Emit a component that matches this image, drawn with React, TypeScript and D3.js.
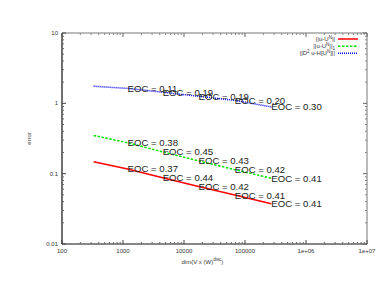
import React from 'react';
import * as d3 from 'd3';

// degrees of freedom (x) and errors for each norm
const dims = [330, 1190, 4470, 17300, 68000, 270000];
const errL2 = [0.148, 0.1167, 0.0873, 0.0657, 0.0496, 0.0374];
const errH1 = [0.35, 0.275, 0.204, 0.152, 0.114, 0.086];
const errH2 = [1.75, 1.63, 1.44, 1.26, 1.1, 0.89];
const eocL2 = ['0.37', '0.44', '0.42', '0.41', '0.41'];
const eocH1 = ['0.38', '0.45', '0.43', '0.42', '0.41'];
const eocH2 = ['0.11', '0.19', '0.19', '0.20', '0.30'];
const xTicks = [100, 1000, 10000, 100000, 1e6, 1e7];
const xTickLabels = ['100', '1000', '10000', '100000', '1e+06', '1e+07'];
const yTicks = [0.01, 0.1, 1, 10];
const yTickLabels = ['0.01', '0.1', '1', '10'];

const series = [
  { name: 'l2', values: errL2, eoc: eocL2, color: '#ff0000', dash: null, width: 1.5 },
  { name: 'h1', values: errH1, eoc: eocH1, color: '#00e000', dash: '2.5,1.5', width: 1.5 },
  { name: 'h2', values: errH2, eoc: eocH2, color: '#0000ff', dash: '1,1', width: 1.5 },
];

export default function App() {
  const W = 390, H = 302;
  const margin = { top: 33, right: 23, bottom: 58, left: 62 };
  const iw = W - margin.left - margin.right;
  const ih = H - margin.top - margin.bottom;

  const x = d3.scaleLog().domain([100, 1e7]).range([0, iw]);
  const y = d3.scaleLog().domain([0.01, 10]).range([ih, 0]);

  const minorX: number[] = [];
  for (let d = 100; d < 1e7; d *= 10) for (let k = 2; k <= 9; k++) minorX.push(d * k);
  const minorY: number[] = [];
  for (let d = 0.01; d < 10 - 1e-9; d *= 10) for (let k = 2; k <= 9; k++) minorY.push(d * k);

  const font = 'Liberation Sans, Arial, sans-serif';

  return (
    <svg width={W} height={H} style={{ position: 'absolute', left: 0, top: 0, background: '#fff' }}>
      <g transform={`translate(${margin.left},${margin.top})`} fontFamily={font}>
        {/* frame */}
        <line x1={0} x2={iw} y1={0} y2={0} stroke="#777" strokeWidth={1} />
        <line x1={iw} x2={iw} y1={0} y2={ih} stroke="#777" strokeWidth={1} />
        <line x1={0} x2={0} y1={0} y2={ih} stroke="#111" strokeWidth={1.2} />
        <line x1={0} x2={iw} y1={ih} y2={ih} stroke="#111" strokeWidth={1.2} />

        {/* ticks */}
        {xTicks.map((t, i) => (
          <g key={'xt' + i}>
            <line x1={x(t)} x2={x(t)} y1={ih} y2={ih - 4} stroke="#444" />
            <line x1={x(t)} x2={x(t)} y1={0} y2={4} stroke="#666" />
            <text x={x(t)} y={ih + 9} fontSize={6} fill="#333" textAnchor="middle">{xTickLabels[i]}</text>
          </g>
        ))}
        {minorX.map((t, i) => (
          <g key={'xm' + i}>
            <line x1={x(t)} x2={x(t)} y1={ih} y2={ih - 2} stroke="#666" />
            <line x1={x(t)} x2={x(t)} y1={0} y2={2} stroke="#888" />
          </g>
        ))}
        {yTicks.map((t, i) => (
          <g key={'yt' + i}>
            <line x1={0} x2={4} y1={y(t)} y2={y(t)} stroke="#444" />
            <line x1={iw} x2={iw - 4} y1={y(t)} y2={y(t)} stroke="#666" />
            <text x={-4} y={y(t) + 2} fontSize={6} fill="#333" textAnchor="end">{yTickLabels[i]}</text>
          </g>
        ))}
        {minorY.map((t, i) => (
          <g key={'ym' + i}>
            <line x1={0} x2={2} y1={y(t)} y2={y(t)} stroke="#666" />
            <line x1={iw} x2={iw - 2} y1={y(t)} y2={y(t)} stroke="#888" />
          </g>
        ))}

        {/* axis titles */}
        <text x={-31} y={ih / 2} fontSize={6} fill="#333" textAnchor="middle"
          transform={`rotate(-90,-31,${ih / 2})`}>error</text>
        <text x={x(20000)} y={ih + 20} fontSize={6} fill="#333" textAnchor="middle">
          dim(V x (W)<tspan dy={-3} fontSize={4.5}>disc</tspan><tspan dy={3}>)</tspan>
        </text>

        {/* lines */}
        {series.map((s) => {
          const line = d3.line<number>().x((_, i) => x(dims[i])).y((v) => y(v));
          return (
            <path key={s.name} d={line(s.values) || ''} fill="none" stroke={s.color}
              strokeWidth={s.width} strokeDasharray={s.dash || undefined} />
          );
        })}

        {/* EOC labels */}
        {series.map((s) =>
          s.eoc.map((e, i) => (
            <text key={s.name + i} x={x(dims[i + 1])} y={y(s.values[i + 1]) + 3.5}
              fontSize={9.6} fill="#222">EOC = {e}</text>
          ))
        )}

        {/* legend */}
        <g fontSize={6} fill="#333">
          <text x={273} y={8} textAnchor="end">||u-U<tspan dy={-2.5} fontSize={4.5}>N</tspan><tspan dy={2.5}>||</tspan></text>
          <line x1={276} x2={296} y1={6} y2={6} stroke="#ff0000" strokeWidth={1.5} />
          <text x={273} y={15} textAnchor="end">||u-U<tspan dy={-2.5} fontSize={4.5}>N</tspan><tspan dy={2.5}>||</tspan><tspan dy={1.5} fontSize={4.5}>1</tspan></text>
          <line x1={276} x2={296} y1={13.3} y2={13.3} stroke="#00e000" strokeWidth={1.5} strokeDasharray="2.5,1.5" />
          <text x={273} y={22} textAnchor="end">||D<tspan dy={-2.5} fontSize={4.5}>2</tspan><tspan dy={2.5}> u-H[U</tspan><tspan dy={-2.5} fontSize={4.5}>N</tspan><tspan dy={2.5}>]||</tspan></text>
          <line x1={276} x2={296} y1={20.3} y2={20.3} stroke="#0000ff" strokeWidth={1.5} strokeDasharray="1,1" />
        </g>
      </g>
    </svg>
  );
}
